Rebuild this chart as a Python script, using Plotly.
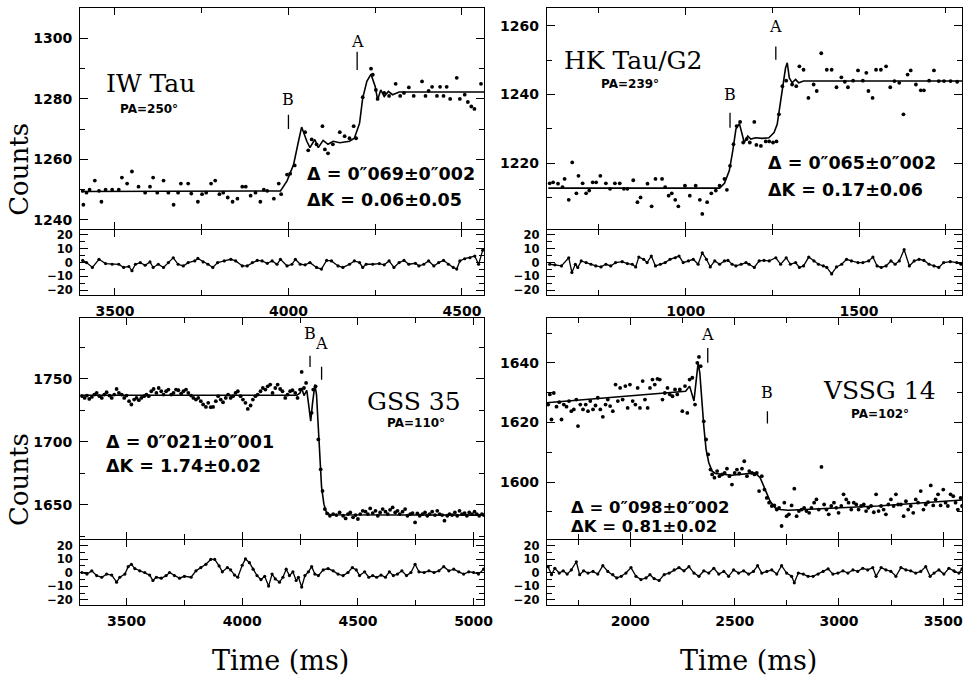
import plotly.graph_objects as go

W, H = 976, 677

# ---------------- Panel 1: IW Tau ----------------
p1_t = [3407,3409,3418,3427,3442,3454,3461,3473,3492,3511,3520,3535,3549,3568,3587,3601,3610,3622,3640,3654,
        3669,3682,3690,3711,3720,3739,3751,3763,3777,3789,3801,3812,3825,3839,3853,3867,3877,3891,3905,3919,
        3929,3939,3958,3972,3979,3996,4005,4018,4048,4057,4067,4081,4098,4105,4114,4128,4148,4162,4176,4188,
        4195,4214,4238,4243,4252,4257,4276,4290,4309,4322,4333,4347,4361,4385,4395,4404,4414,4428,4437,4447,
        4456,4466,4485,4494,4508,4517,4527,4536,4555]
p1_c = [1249.6,1245,1249,1250,1253,1249.6,1246,1250,1250,1250,1254,1252,1256,1251,1249,1251,1254,1249,1253,1249,
        1245,1249,1252,1252,1248.7,1246,1248.5,1249,1252,1253,1248.5,1249,1247.4,1246,1247,1251,1251,1248,1249,1246,
        1250,1249.6,1247,1252,1248.5,1255,1255.3,1258,1269,1263,1266.6,1265,1271,1263.3,1262,1265,1269,1267.7,1267,1271,
        1267,1280.6,1290,1288,1283,1280,1282,1281,1285,1281,1282,1283.8,1281,1285.8,1281,1282.7,1284,1281,1284,1281,
        1284,1280,1287,1280,1281.4,1279,1277.5,1276.7,1285]
p1_fit_t = [3402,3977,3996,4015,4029,4038,4053,4062,4076,4086,4100,4114,4129,4148,4176,4190,4205,4214,4226,4238,
            4250,4257,4266,4276,4288,4300,4319,4566]
p1_fit_c = [1249.4,1249.6,1252.9,1258.4,1266,1270.7,1266,1263.9,1266.6,1263.9,1266.3,1265,1266,1265.5,1266,1267,1272,1280.3,1285.8,1288.2,
            1284.1,1279.7,1283,1280.8,1282.5,1281.4,1282.3,1282.3]
p1_res_t = [3407,3418,3435,3454,3473,3492,3511,3525,3540,3549,3559,3573,3587,3601,3610,3625,3640,3654,3668,3682,
            3697,3711,3730,3739,3754,3768,3782,3796,3815,3834,3848,3867,3881,3896,3910,3924,3939,3953,3967,3977,
            3996,4010,4020,4034,4048,4062,4081,4095,4110,4124,4143,4157,4176,4190,4205,4214,4224,4243,4262,4276,
            4290,4304,4319,4333,4347,4366,4376,4390,4404,4419,4433,4447,4461,4475,4485,4494,4508,4523,4537,4548,4560]
p1_res = [1.6,0,-3.5,2.4,-0.7,-1.2,-1.2,-3.5,-2.8,-5.9,-1.2,0,-1.9,0.5,-3.5,-1.2,-3.5,0,3.5,-1.2,
          -2.4,0,1.2,3,0.5,-1.2,-3.5,0,1.2,2.4,1.2,-2.4,-2.4,0,1.6,1.2,-0.5,1.2,-1.2,2.4,
          -2.4,-1.2,2.4,-1.2,-1.6,0,-3.5,-4.7,1.6,1.2,-2.4,-3.5,-1.2,1.2,0,-3.5,-1.2,-1.2,-0.7,-1.6,
          1.2,-3.5,0,1.6,-1.2,-0.5,-2.4,-1.2,1.2,-2.4,0,1.6,-1.2,-3.5,-4.7,1.2,2.8,3.5,4.7,-1.2,9]
p1_comp_t = {"B": 4000, "A": 4198}

# ---------------- Panel 2: HK Tau/G2 ----------------
p2_t = [608,618,632,645,651,663,673,685,691,703,713,722,732,742,754,770,782,796,810,822,
        832,849,861,870,890,902,913,932,941,951,960,970,979,998,1012,1029,1041,1048,1062,1074,
        1087,1098,1112,1119,1128,1138,1147,1157,1166,1176,1185,1198,1204,1217,1231,1241,1252,1262,1269,1279,
        1290,1307,1319,1328,1340,1354,1369,1378,1391,1407,1421,1435,1449,1459,1468,1483,1497,1511,1521,1527,
        1539,1549,1563,1578,1590,1602,1616,1628,1640,1649,1664,1678,1687,1702,1716,1730,1745,1764,1783]
p2_c = [1214.1,1214.4,1214,1213,1215.4,1209.3,1220.2,1211.2,1216.3,1214.1,1211.2,1212,1214.4,1214.4,1216.3,1214.1,1212.5,1214.1,1214.1,1212.5,
        1212.5,1215,1208.6,1210,1214,1207.4,1215.4,1215.4,1213,1210.5,1211.2,1209.3,1207.4,1213.4,1210.5,1213.4,1209.3,1205.2,1208.6,1211.2,
        1212,1213.4,1215.4,1212.2,1219.2,1225.5,1230.8,1232,1226,1227,1226,1232,1225.3,1225,1226.3,1226.3,1226,1226.3,1234.2,1242.4,
        1244,1242.9,1242.4,1248.2,1247.2,1239,1242.9,1241,1252,1247.2,1247.2,1242.1,1245,1243.7,1242.1,1244,1247,1244,1246.3,1241,
        1239,1247.2,1247.2,1248.2,1242.1,1243.9,1243.4,1234.2,1245.8,1247,1242.9,1241.2,1241.2,1244,1247,1243.9,1243.9,1243.9,1243.7]
p2_fit_t = [604,1098,1112,1126,1136,1145,1155,1164,1169,1179,1188,1202,1221,1240,1255,1264,1274,1280,1288,1293,
            1299,1307,1317,1326,1340,1797]
p2_fit_c = [1212.7,1212.7,1214.1,1217.8,1223.6,1229.9,1231.5,1228.4,1226,1227.9,1227,1227.4,1227.2,1227.4,1228.9,1231.3,1238.1,1242.9,1247.7,1249.2,
            1244.8,1243.4,1244.4,1243.4,1243.9,1243.9]
p2_res_t = [608,623,642,663,672,682,689,699,713,727,741,756,770,784,798,817,832,846,856,865,
            879,889,901,913,927,941,955,970,981,993,1008,1022,1036,1048,1060,1071,1084,1098,1112,1122,
            1134,1145,1160,1174,1183,1198,1212,1226,1241,1260,1274,1290,1302,1317,1328,1340,1355,1370,1383,1397,
            1407,1421,1435,1450,1464,1478,1497,1511,1528,1540,1552,1564,1578,1592,1604,1616,1630,1645,1659,1673,
            1687,1702,1716,1730,1744,1763,1782,1794]
p2_res = [-1.2,-1.6,-2.4,3.5,-7.1,-1.2,-3.5,1.2,0,-1.2,-2.4,-3.1,-1.2,-2.4,0,0.7,-0.7,-1.2,-3.1,4,
          2.4,0,4.7,-2.4,-1.2,0,2.4,3.5,4.7,0,1.2,2.4,-1.2,7.1,2.4,-3.1,1.2,-1.2,1.2,1.6,
          -1.2,-2.4,-1.2,0,-1.2,-3.5,1.2,1.6,1.2,3.5,-1.2,3.5,-1.2,0,-3.5,-2.4,4,1.2,-1.2,-2.4,
          -3.5,-8.2,-3.1,-1.2,2.4,1.2,0,0,1.2,4,-2.4,-3.5,-2.4,1.2,-1.2,1.2,9.4,-2.4,1.2,2.4,
          1.6,-1.2,-2.4,-3.5,0,0.7,0,-1.2]
p2_comp_t = {"B": 1128, "A": 1260}

# ---------------- Panel 3: GSS 35 ----------------
p3_t = [3307,3319,3329,3339,3350,3361,3371,3383,3393,3404,3414,3426,3436,3447,3457,3467,3479,3490,3500,3511,
        3521,3533,3543,3553,3564,3576,3586,3596,3607,3617,3629,3639,3650,3660,3671,3681,3693,3703,3714,3724,
        3736,3746,3757,3767,3779,3789,3800,3810,3821,3831,3843,3853,3864,3874,3886,3896,3907,3917,3929,3939,
        3950,3960,3971,3981,3993,4003,4014,4024,4036,4046,4057,4067,4079,4089,4100,4110,4121,4131,4143,4153,
        4164,4174,4186,4196,4207,4217,4229,4239,4250,4257,4267,4276,4300,4307,4317,4329,4339,4347,4357,4367,
        4379,4393,4407,4421,4436,4447,4457,4467,4479,4490,4500,4510,4521,4533,4543,4553,4564,4576,4586,4596,
        4607,4619,4629,4639,4650,4661,4671,4681,4693,4704,4714,4726,4736,4747,4757,4767,4779,4790,4800,4810,
        4821,4833,4843,4853,4864,4874,4886,4896,4907,4919,4929,4939,4950,4961,4971,4981,4993,5004,5014,5024,
        5036,5044]
p3_c = [1736.1,1734.7,1736.6,1733.9,1735.5,1737.4,1738.7,1736.1,1734.7,1737.4,1739.2,1736.6,1734.7,1737.4,1741.8,1738.7,1737.4,1734.7,1736.6,1732.1,
        1729.5,1733.4,1734.7,1732.9,1734.7,1736.1,1737.4,1736.1,1740,1741.8,1738.7,1742.6,1740,1737.4,1740,1741.3,1737.4,1738.7,1741.3,1740.8,
        1738.2,1740,1741.3,1738.7,1736.6,1734.7,1733.4,1734.7,1732.1,1729.5,1727.6,1730.8,1727.4,1727.6,1732.1,1736.1,1733.4,1731.3,1734.7,1737.4,
        1734.7,1736.1,1738.7,1740,1736.1,1733.4,1730.8,1726,1728.7,1733.4,1736.1,1737.4,1740,1742.6,1741.3,1743.9,1745.3,1738.7,1742.6,1745.3,
        1741.8,1740,1734.7,1737.4,1740,1740.8,1738.7,1734.7,1741.3,1755.3,1742.6,1746.6,1722.9,1741.3,1743.9,1701.8,1678.1,1661,1646.6,1643.1,
        1641.3,1642.6,1641.8,1643.9,1641.3,1639.2,1642.6,1643.9,1640,1641.8,1638.7,1642.6,1645.2,1644.5,1642.6,1647.1,1643.4,1645.2,1641.3,1643.9,
        1646.6,1644.5,1642.6,1646,1647.9,1643.9,1645.2,1642.6,1644.5,1646.6,1641.3,1642.6,1643.4,1636,1643.1,1641.3,1642.6,1643.9,1641.3,1642.6,
        1644.5,1641.8,1645.2,1642.6,1641.8,1637.4,1641.3,1642.6,1641.8,1643.9,1641.3,1645.2,1642.6,1643.4,1641.3,1643.9,1642.6,1644.5,1642.6,1641.3,
        1642.6,1641.8]
p3_fit_t = [3300,4236,4250,4257,4267,4279,4286,4296,4304,4314,4321,4329,4336,4343,4353,4364,4379,5047]
p3_fit_c = [1736.8,1736.8,1738.7,1742.6,1736.6,1740.8,1730.8,1716.3,1730.8,1745.3,1737.4,1709.7,1683.4,1663.7,1650.5,1643.9,1642.1,1641.8]
p3_res_t = [3307,3329,3350,3371,3393,3414,3436,3457,3471,3493,3507,3521,3536,3557,3579,3600,3614,3629,3650,3671,
            3686,3707,3729,3750,3779,3800,3821,3843,3864,3881,3900,3914,3936,3950,3967,3981,4000,4014,4031,4047,
            4064,4081,4097,4114,4129,4143,4161,4176,4190,4204,4219,4233,4243,4257,4271,4286,4300,4314,4329,4350,
            4371,4393,4414,4436,4457,4476,4493,4507,4529,4547,4564,4581,4600,4619,4636,4653,4671,4690,4710,4729,
            4747,4764,4786,4807,4829,4850,4871,4893,4914,4936,4957,4979,5000,5021,5043]
p3_res = [0.2,-1,1.4,-2.1,-3.3,-1,-1.7,-6.9,-3.3,-1,4.5,6.2,3.1,1.4,0.2,-1.7,-5.7,-3.3,-4,-2.1,
          0.2,-2.1,-4,-2.6,-3.3,1.4,3.8,6.2,9.8,9.8,5,0.7,3.8,2.1,-1.7,-3.3,5.5,10.2,7.4,2.6,
          -2.1,-5,-2.6,-9.8,-1,-4.5,-6.9,-3.3,2.6,-2.1,0.7,-5.7,-3.3,-10.5,-2.1,0.7,4.5,-1,-2.1,2.1,
          3.1,1.4,-1,-2.1,0.2,3.8,2.1,-2.1,0.7,-3.3,-2.1,-3.3,-1.7,-3.3,0.7,-2.1,-1,1.4,-2.1,0.2,
          6.2,0.7,0.2,1.4,0.2,1.4,4.5,1.4,2.6,0.7,-1,0.7,0.2,-1,2.6]
p3_comp_t = {"B": 4293, "A": 4343}

# ---------------- Panel 4: VSSG 14 ----------------
p4_t = [1606,1614,1622,1633,1646,1659,1670,1681,1694,1706,1717,1729,1741,1749,1760,1773,1786,1797,1808,1821,
        1833,1844,1856,1868,1881,1892,1903,1916,1929,1940,1951,1963,1976,1987,1998,2011,2024,2035,2046,2059,
        2070,2083,2094,2106,2117,2130,2141,2154,2165,2178,2189,2202,2214,2225,2237,2249,2262,2273,2284,2297,
        2310,2321,2329,2337,2352,2363,2373,2384,2392,2403,2416,2427,2440,2452,2463,2475,2487,2500,2511,2522,
        2535,2546,2559,2570,2583,2595,2606,2617,2630,2643,2654,2665,2678,2690,2702,2713,2725,2738,2749,2760,
        2773,2786,2797,2808,2821,2833,2844,2857,2868,2881,2892,2903,2916,2929,2940,2951,2963,2976,2987,2998,
        3011,3022,3035,3046,3059,3071,3083,3094,3106,3119,3130,3141,3154,3167,3178,3190,3202,3214,3225,3237,
        3249,3262,3273,3284,3297,3310,3321,3332,3344,3356,3368,3379,3392,3405,3416,3427,3440,3452,3463,3475,
        3487,3500,3511,3522,3535,3548,3559,3570,3583,3590]
p4_c = [1626.0,1629.4,1621,1629.9,1625.3,1626.8,1621,1626.0,1625.3,1627.2,1623.8,1624.4,1627.7,1618.8,1626.0,1624.4,1626.0,1623.8,1627.2,1624.4,
        1625.7,1628.3,1624.4,1621.9,1626.0,1627.7,1625.5,1623.8,1632.7,1627.2,1631.6,1627.7,1632.2,1624.9,1632.7,1627.2,1626.0,1631.6,1624.9,1633.9,
        1627.7,1624.9,1631.6,1634.4,1632.7,1634.6,1634.4,1627.7,1629.9,1631.6,1629.4,1628.8,1631.1,1629.4,1631.1,1623.8,1632.2,1623.2,1634.4,1635.0,
        1626.0,1640,1642.0,1638.9,1620.4,1614.3,1609.3,1604.2,1602.6,1601.5,1603.7,1602.0,1602.6,1603.1,1604.5,1602.0,1599.2,1603.1,1604.2,1602.9,
        1604.5,1607.0,1602.0,1603.7,1603.1,1602.6,1603.1,1597.0,1602.0,1597.5,1594.7,1593.1,1592.0,1592.2,1590.8,1591.4,1585.3,1593.1,1588.6,1589.2,
        1592.2,1597.8,1588.6,1590.3,1590.8,1591.4,1590.3,1589.7,1591.4,1593.1,1594.2,1590.8,1605.1,1592.5,1590.8,1589.2,1592.0,1593.1,1591.4,1589.7,
        1592.0,1595.9,1594.2,1593.1,1590.8,1593.1,1592.5,1590.8,1592.0,1592.5,1590.3,1591.4,1592.0,1589.9,1595.9,1590.3,1592.0,1590.8,1589.2,1592.5,
        1594.2,1592.0,1595.9,1592.5,1592.5,1588.6,1593.6,1590.8,1592.0,1589.7,1594.2,1593.1,1597.0,1590.8,1592.5,1593.3,1598.9,1592.2,1594.2,1595.9,
        1592.2,1597.5,1593.1,1592.0,1595.9,1595.3,1593.1,1590.8,1594.7,1592.0]
p4_fit_t = [1598,2265,2284,2294,2305,2316,2325,2333,2341,2352,2363,2376,2392,2408,2487,2551,2598,2622,2646,2670,
            2694,2717,2757,2868,3186,3590]
p4_fit_c = [1626.6,1630.5,1632.2,1629.4,1627.2,1634.4,1640,1636.6,1628.8,1618.8,1611,1606.5,1603.7,1602.9,1602.3,1602.9,1603.1,1601.5,1597.5,1593.6,
            1591.4,1590.8,1590.6,1591,1592,1594]
p4_res_t = [1606,1622,1638,1659,1678,1697,1717,1741,1757,1776,1797,1821,1844,1868,1892,1916,1935,1956,1979,2003,
            2027,2051,2075,2094,2114,2138,2162,2186,2210,2233,2257,2281,2305,2329,2352,2376,2400,2424,2448,2471,
            2495,2519,2543,2567,2590,2610,2630,2654,2678,2702,2725,2749,2773,2786,2805,2829,2852,2876,2900,2924,
            2948,2971,2995,3019,3043,3067,3090,3114,3138,3162,3178,3202,3225,3249,3273,3297,3321,3344,3368,3392,
            3416,3437,3456,3479,3503,3527,3551,3575,3590]
p4_res = [4.5,-1.4,3.3,-0.2,1.4,-1,2.1,8.1,-1.4,1.4,-0.2,1,-1,5.2,1,-1.4,-3.8,-2.6,-0.2,3.8,
          -2.6,-5,-3.8,-1.4,-4.3,-5.7,-1.4,-0.2,2.1,3.8,1.4,4.5,-0.2,-2.6,1.4,-0.2,3.3,-1,1,-2.6,
          2.1,-0.2,1.4,-1,1,5.2,-0.2,1,2.1,-1,5.2,-0.2,-2.6,-7.4,-0.2,-1,-2.6,-2.6,-1,1,
          2.9,-1,-0.2,1.4,-0.2,2.1,1,3.3,2.1,3.8,-2.6,3.8,2.1,1,-2.6,3.8,2.1,1.4,-0.2,1,
          4.5,-2.6,-0.2,2.1,-1,3.3,1.4,-0.2,2.9]
p4_comp_t = {"A": 2371, "B": 2657}

# ---------------- layout helpers ----------------
LW = 1.3

def py(p):
    return 1 - p / H

def px(p):
    return p / W

XL = [px(81), px(489)]
XR = [px(552), px(971)]
TOP_MAIN = [py(228), py(6)]
TOP_RES = [py(295), py(228 + LW)]
BOT_MAIN = [py(540), py(318)]
BOT_RES = [py(607), py(540 + LW)]

TICKFONT = dict(family="DejaVu Sans", size=14, color="black", weight="bold")
RESFONT = dict(family="DejaVu Sans", size=11.5, color="black", weight="bold")

def xax(dom, rng, anchor, labels):
    return dict(domain=dom, range=rng, anchor=anchor, showline=True, linecolor="black", linewidth=LW,
                mirror="ticks", ticks="inside", ticklen=7, tickwidth=1.3, tickcolor="black",
                dtick=500, tick0=0, showgrid=False, zeroline=False, showticklabels=labels,
                tickfont=TICKFONT, ticklabelstandoff=3,
                minor=dict(dtick=250, ticklen=5, tickwidth=1.2, tickcolor="black", ticks="inside", showgrid=False))

def yax(dom, rng, anchor, dt, mdt, font=TICKFONT):
    return dict(domain=dom, range=rng, anchor=anchor, showline=True, linecolor="black", linewidth=LW,
                mirror="ticks", ticks="inside", ticklen=8, tickwidth=1.3, tickcolor="black",
                dtick=dt, tick0=0, showgrid=False, zeroline=False, tickfont=font, ticklabelstandoff=4,
                minor=dict(dtick=mdt, ticklen=5, tickwidth=1.2, tickcolor="black", ticks="inside", showgrid=False))

fig = go.Figure()

panels = [
    (p1_t, p1_c, p1_fit_t, p1_fit_c, p1_res_t, p1_res, "x", "y", "x2", "y2"),
    (p2_t, p2_c, p2_fit_t, p2_fit_c, p2_res_t, p2_res, "x3", "y3", "x4", "y4"),
    (p3_t, p3_c, p3_fit_t, p3_fit_c, p3_res_t, p3_res, "x5", "y5", "x6", "y6"),
    (p4_t, p4_c, p4_fit_t, p4_fit_c, p4_res_t, p4_res, "x7", "y7", "x8", "y8"),
]
for t, c, ft, fc, rt, r, xm, ym, xr, yr in panels:
    fig.add_trace(go.Scatter(x=t, y=c, mode="markers", xaxis=xm, yaxis=ym,
                             marker=dict(color="black", size=3.8), showlegend=False, hoverinfo="skip"))
    fig.add_trace(go.Scatter(x=ft, y=fc, mode="lines", xaxis=xm, yaxis=ym,
                             line=dict(color="black", width=1.6), showlegend=False, hoverinfo="skip"))
    fig.add_trace(go.Scatter(x=rt, y=r, mode="lines+markers", xaxis=xr, yaxis=yr,
                             line=dict(color="black", width=1.3), marker=dict(color="black", size=3.2),
                             showlegend=False, hoverinfo="skip"))

layout = dict(
    width=W, height=H, margin=dict(l=0, r=0, t=0, b=0),
    paper_bgcolor="white", plot_bgcolor="white", showlegend=False,
    xaxis=xax(XL, [3400, 4565], "y", False), yaxis=yax(TOP_MAIN, [1237.1, 1310.1], "x", 20, 10),
    xaxis2=xax(XL, [3400, 4565], "y2", True), yaxis2=yax(TOP_RES, [-23.6, 23.6], "x2", 10, 5, RESFONT),
    xaxis3=xax(XR, [600, 1797], "y3", False), yaxis3=yax(TOP_MAIN, [1200.9, 1265.2], "x3", 20, 10),
    xaxis4=xax(XR, [600, 1797], "y4", True), yaxis4=yax(TOP_RES, [-23.6, 23.6], "x4", 10, 5, RESFONT),
    xaxis5=xax(XL, [3300, 5047], "y5", False), yaxis5=yax(BOT_MAIN, [1623, 1798], "x5", 50, 25),
    xaxis6=xax(XL, [3300, 5047], "y6", True), yaxis6=yax(BOT_RES, [-24, 24], "x6", 10, 5, RESFONT),
    xaxis7=xax(XR, [1600, 3590], "y7", False), yaxis7=yax(BOT_MAIN, [1581, 1655], "x7", 20, 10),
    xaxis8=xax(XR, [1600, 3590], "y8", True), yaxis8=yax(BOT_RES, [-24, 24], "x8", 10, 5, RESFONT),
)
fig.update_layout(**layout)

SERIF = "DejaVu Serif"
SANS = "DejaVu Sans"

# component markers (short vertical bars) and their letters
comp_specs = [
    ("x", "y", p1_comp_t, {"B": (1270.1, 1274.8, 1279.7), "A": (1289.6, 1295.6, 1299.1)}),
    ("x3", "y3", p2_comp_t, {"B": (1230.3, 1234.7, 1240.0), "A": (1250.1, 1254.0, 1259.8)}),
    ("x5", "y5", p3_comp_t, {"B": (1759.2, 1768.2, 1786.0), "A": (1749.2, 1759.5, 1777.6)}),
    ("x7", "y7", p4_comp_t, {"A": (1640.0, 1645.0, 1649.5), "B": (1619.7, 1623.8, 1630.0)}),
]
for xr_, yr_, comps, geo in comp_specs:
    for name, tval in comps.items():
        y0, y1, ylab = geo[name]
        fig.add_shape(type="line", xref=xr_, yref=yr_, x0=tval, x1=tval, y0=y0, y1=y1,
                      line=dict(color="black", width=1.3))
        fig.add_annotation(xref=xr_, yref=yr_, x=tval, y=ylab, text=name, showarrow=False,
                           font=dict(family=SERIF, size=16, color="black"), xanchor="center", yanchor="middle")

def ann(text, x, y, size, family, xanchor="center", weight="normal", angle=0):
    fig.add_annotation(xref="paper", yref="paper", x=px(x), y=py(y), text=text, showarrow=False,
                       xanchor=xanchor, yanchor="middle", textangle=angle,
                       font=dict(family=family, size=size, color="black", weight=weight))

# panel 1
ann("IW Tau", 152, 82, 25, SERIF)
ann("PA=250°", 150, 108, 12, SANS, weight="bold")
ann("Δ = 0″069±0″002", 308, 173, 17.5, SANS, xanchor="left", weight="bold")
ann("ΔK = 0.06±0.05", 308, 199, 17.5, SANS, xanchor="left", weight="bold")
# panel 2
ann("HK Tau/G2", 639, 59, 25, SERIF)
ann("PA=239°", 636, 82, 12, SANS, weight="bold")
ann("Δ = 0″065±0″002", 773, 162, 17.5, SANS, xanchor="left", weight="bold")
ann("ΔK = 0.17±0.06", 773, 189, 17.5, SANS, xanchor="left", weight="bold")
# panel 3
ann("GSS 35", 418, 402, 25, SERIF)
ann("PA=110°", 420, 423, 12, SANS, weight="bold")
ann("Δ = 0″021±0″001", 105, 443, 17.5, SANS, xanchor="left", weight="bold")
ann("ΔK = 1.74±0.02", 105, 467, 17.5, SANS, xanchor="left", weight="bold")
# panel 4
ann("VSSG 14", 888, 391, 25, SERIF)
ann("PA=102°", 888, 414, 12, SANS, weight="bold")
ann("Δ = 0″098±0″002", 574, 509, 16.5, SANS, xanchor="left", weight="bold")
ann("ΔK = 0.81±0.02", 574, 528, 16.5, SANS, xanchor="left", weight="bold")

# axis titles
ann("Counts", 19, 168, 26, SERIF, angle=-90)
ann("Counts", 19, 480, 26, SERIF, angle=-90)
ann("Time (ms)", 283, 662, 27, SERIF)
ann("Time (ms)", 755, 662, 27, SERIF)

fig.write_html("out.html", config={"displayModeBar": False},
               post_script="document.body.style.margin='0px';document.body.style.overflow='hidden';")
